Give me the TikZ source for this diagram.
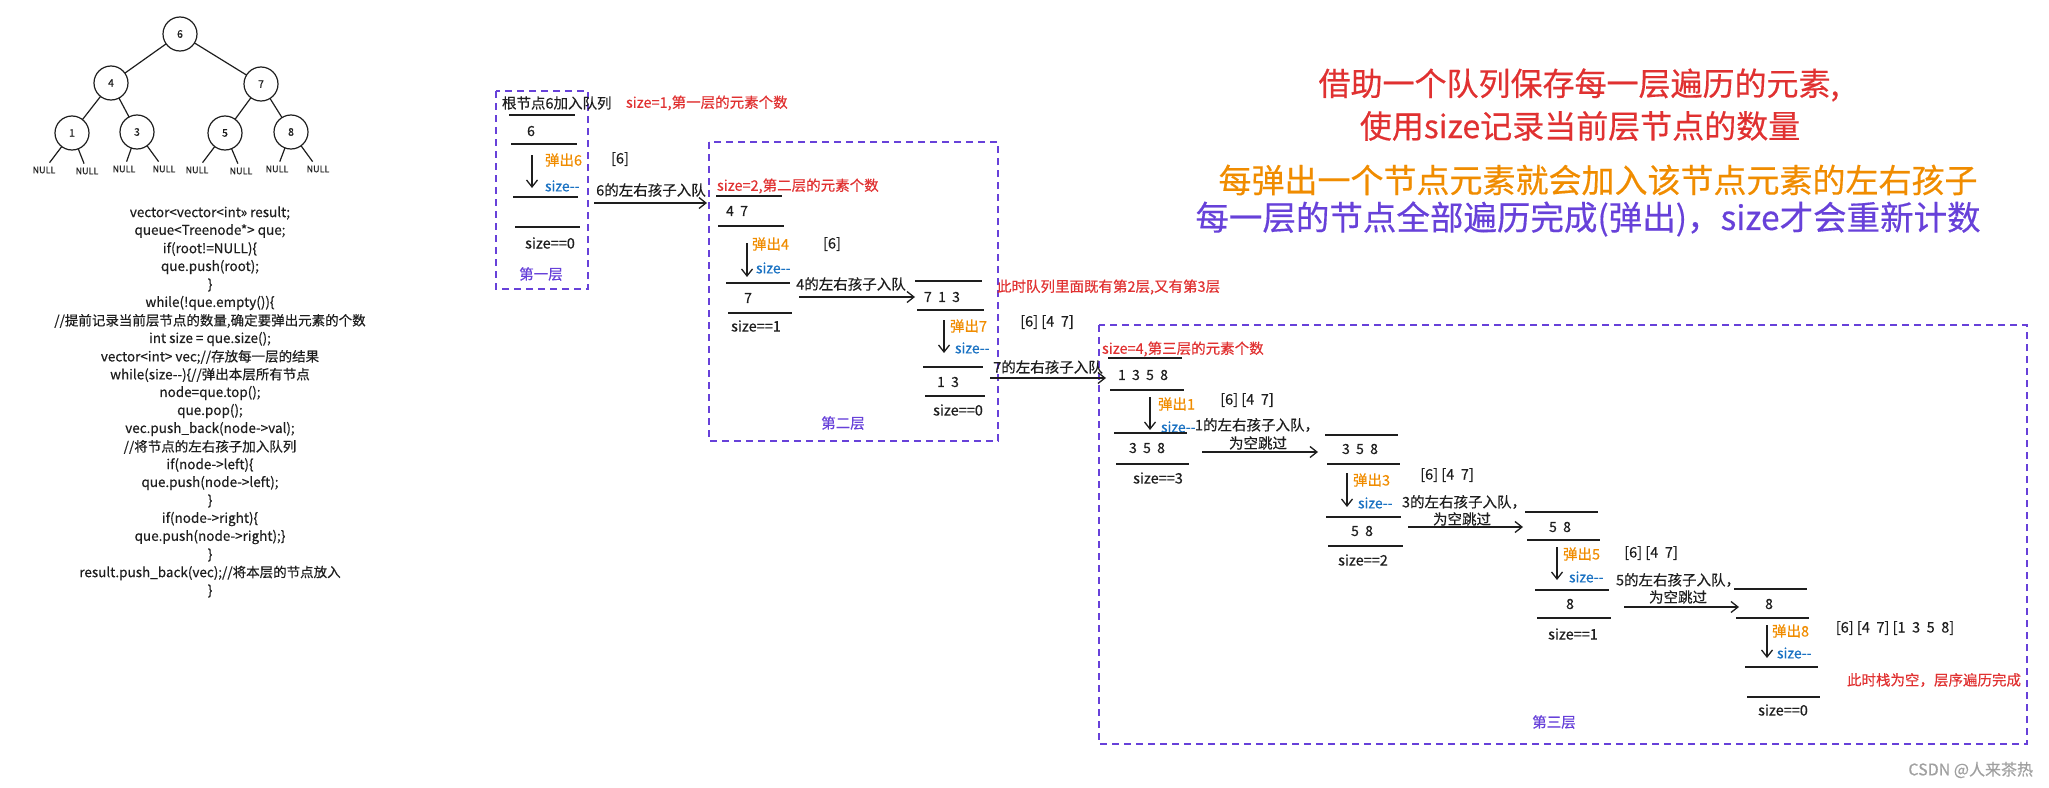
\documentclass[tikz,border=0pt]{standalone}
\usepackage{fontspec}
\setmainfont{Noto Sans CJK SC}[FakeBold=0.4]
\usetikzlibrary{arrows.meta}
\definecolor{ink}{HTML}{1E1E1E}
\definecolor{xred}{HTML}{E03131}
\definecolor{xorange}{HTML}{F08C00}
\definecolor{xblue}{HTML}{1971C2}
\definecolor{xviolet}{HTML}{6741D9}
\definecolor{wmgray}{HTML}{A0A0A0}
\newcommand\hyhy{-\kern0pt-}
\newcommand\qs{\hspace{0.45em}}
\newcommand\qlines[4]{%
  \draw[qline] (#1,#2) -- ++(#3,0);
  \draw[qline] ({#1+2},#4) -- ++(#3,0);}
\begin{document}
\begin{tikzpicture}[x=1pt,y=-1pt,
  every node/.style={inner sep=0pt,outer sep=0pt},
  lbl/.style={text=ink,font=\fontsize{14.5}{17}\selectfont},
  code/.style={text=ink,font=\fontsize{13.5}{16}\selectfont},
  qtxt/.style={text=ink,font=\fontsize{14}{16}\selectfont},
  redl/.style={text=xred,font=\fontsize{14.5}{17}\selectfont},
  popl/.style={text=xorange,font=\fontsize{14.5}{17}\selectfont,anchor=west},
  decl/.style={text=xblue,font=\fontsize{14}{16}\selectfont,anchor=west},
  layl/.style={text=xviolet,font=\fontsize{14.5}{17}\selectfont},
  big/.style={font=\fontsize{32}{36}\selectfont},
  tnode/.style={circle,draw=ink,line width=1.2pt,minimum size=34pt,text=ink,font=\fontsize{10.5}{12}\selectfont},
  nulll/.style={text=ink,font=\fontsize{9}{10}\selectfont\itshape,outer sep=4pt},
  tedge/.style={draw=ink,line width=1.2pt},
  qline/.style={draw=ink,line width=1.3pt},
  arr/.style={draw=ink,line width=1.3pt,-{Straight Barb[length=7pt,width=11pt]}},
  lbox/.style={draw=xviolet,line width=1.5pt,dash pattern=on 7pt off 5pt}
]
\useasboundingbox (0,0) rectangle (2049,787);

% ---------- tree ----------
\node[tnode] (t6) at (180,34) {6};
\node[tnode] (t4) at (111,83) {4};
\node[tnode] (t7) at (261,84) {7};
\node[tnode] (t1) at (72,133) {1};
\node[tnode] (t3) at (137,132) {3};
\node[tnode] (t5) at (225,133) {5};
\node[tnode] (t8) at (291,132) {8};
\node[nulll] (n1) at (44,170) {NULL};
\node[nulll] (n2) at (87,171) {NULL};
\node[nulll] (n3) at (124,169) {NULL};
\node[nulll] (n4) at (164,169) {NULL};
\node[nulll] (n5) at (197,170) {NULL};
\node[nulll] (n6) at (241,171) {NULL};
\node[nulll] (n7) at (277,169) {NULL};
\node[nulll] (n8) at (318,169) {NULL};
\draw[tedge] (t6) -- (t4);
\draw[tedge] (t6) -- (t7);
\draw[tedge] (t4) -- (t1);
\draw[tedge] (t4) -- (t3);
\draw[tedge] (t7) -- (t5);
\draw[tedge] (t7) -- (t8);
\draw[tedge] (t1) -- (n1);
\draw[tedge] (t1) -- (n2);
\draw[tedge] (t3) -- (n3);
\draw[tedge] (t3) -- (n4);
\draw[tedge] (t5) -- (n5);
\draw[tedge] (t5) -- (n6);
\draw[tedge] (t8) -- (n7);
\draw[tedge] (t8) -- (n8);

% ---------- code ----------
\node[code] (c1) at (210,213) {vector<vector<int>> result;};
\node[code] (c2) at (210,231) {queue<Treenode*> que;};
\node[code] (c3) at (210,249) {if(root!=NULL)\{};
\node[code] (c4) at (210,267) {que.push(root);};
\node[code] (c5) at (210,285) {\}};
\node[code] (c6) at (210,303) {while(!que.empty())\{};
\node[code] (c7) at (210,321) {//提前记录当前层节点的数量,确定要弹出元素的个数};
\node[code] (c8) at (210,339) {int size = que.size();};
\node[code] (c9) at (210,357) {vector<int> vec;//存放每一层的结果};
\node[code] (c10) at (210,375) {while(size\hyhy)\{//弹出本层所有节点};
\node[code] (c11) at (210,393) {node=que.top();};
\node[code] (c12) at (210,411) {que.pop();};
\node[code] (c13) at (210,429) {vec.push\_back(node->val);};
\node[code] (c14) at (210,447) {//将节点的左右孩子加入队列};
\node[code] (c15) at (210,465) {if(node->left)\{};
\node[code] (c16) at (210,483) {que.push(node->left);};
\node[code] (c17) at (210,501) {\}};
\node[code] (c18) at (210,519) {if(node->right)\{};
\node[code] (c19) at (210,537) {que.push(node->right);\}};
\node[code] (c20) at (210,555) {\}};
\node[code] (c21) at (210,573) {result.push\_back(vec);//将本层的节点放入};
\node[code] (c22) at (210,591) {\}};

% ---------- layer boxes ----------
\draw[lbox] (496,91) rectangle (588,289);
\draw[lbox] (709,142) rectangle (998,441);
\draw[lbox] (1099,325) rectangle (2027,744);
\node[layl] (L1) at (541,274) {第一层};
\node[layl] (L2) at (843,423) {第二层};
\node[layl] (L3) at (1554,722) {第三层};

% ---------- layer 1 ----------
\node[lbl,anchor=west] (r1) at (502,103) {根节点6加入队列};
\node[redl,anchor=west] (s1) at (626,103) {size=1,第一层的元素个数};
\qlines{509}{115}{66}{144}
\node[qtxt] (q1) at (531,131) {6};
\coordinate (d1s) at (532,155); \coordinate (d1e) at (532,188);
\draw[arr] (d1s) -- (d1e);
\node[popl] (p1) at (545,160) {弹出6};
\node[decl] (m1) at (545,186) {size\hyhy};
\node[lbl] (b1) at (620,159) {[6]};
\qlines{513}{197}{65}{227}
\node[lbl] (z1) at (550,243) {size==0};
\coordinate (h1s) at (594,203); \coordinate (h1e) at (707,203);
\draw[arr] (h1s) -- (h1e);
\node[lbl] (a1) at (651,190) {6的左右孩子入队};

% ---------- layer 2 ----------
\node[redl,anchor=west] (s2) at (717,186) {size=2,第二层的元素个数};
\qlines{716}{196}{66}{226}
\node[qtxt] (q2) at (737,211) {4\qs7};
\coordinate (d2s) at (747,243); \coordinate (d2e) at (747,277);
\draw[arr] (d2s) -- (d2e);
\node[popl] (p2) at (752,244) {弹出4};
\node[decl] (m2) at (756,268) {size\hyhy};
\node[lbl] (b2) at (832,244) {[6]};
\qlines{726}{283}{64}{313}
\node[qtxt] (q3) at (748,298) {7};
\node[lbl] (z2) at (756,326) {size==1};
\coordinate (h2s) at (799,297); \coordinate (h2e) at (915,297);
\draw[arr] (h2s) -- (h2e);
\node[lbl] (a2) at (851,284) {4的左右孩子入队};
\qlines{915}{281}{67}{310}
\node[qtxt] (q4) at (942,297) {7\qs1\qs3};
\coordinate (d3s) at (944,320); \coordinate (d3e) at (944,353);
\draw[arr] (d3s) -- (d3e);
\node[popl] (p3) at (950,326) {弹出7};
\node[decl] (m3) at (955,348) {size\hyhy};
\node[lbl] (b3) at (1047,322) {[6] [4\qs7]};
\node[redl,anchor=west] (note1) at (997,287) {此时队列里面既有第2层,又有第3层};
\qlines{923}{367}{60}{396}
\node[qtxt] (q5) at (948,382) {1\qs3};
\node[lbl] (z3) at (958,410) {size==0};
\coordinate (h3s) at (990,378); \coordinate (h3e) at (1106,378);
\draw[arr] (h3s) -- (h3e);
\node[lbl] (a3) at (1048,367) {7的左右孩子入队};

% ---------- layer 3 ----------
\node[redl,anchor=west] (s3) at (1102,349) {size=4,第三层的元素个数};
\qlines{1108}{358}{74}{390}
\node[qtxt] (q6) at (1143,375) {1\qs3\qs5\qs8};
\coordinate (d4s) at (1150,397); \coordinate (d4e) at (1150,430);
\draw[arr] (d4s) -- (d4e);
\node[popl] (p4) at (1158,404) {弹出1};
\node[decl] (m4) at (1161,427) {size\hyhy};
\node[lbl] (b4) at (1247,400) {[6] [4\qs7]};
\qlines{1114}{433}{73}{464}
\node[qtxt] (q7) at (1147,448) {3\qs5\qs8};
\node[lbl] (z4) at (1158,478) {size==3};
\coordinate (h4s) at (1202,452); \coordinate (h4e) at (1318,452);
\draw[arr] (h4s) -- (h4e);
\node[lbl] (a4) at (1257,425) {1的左右孩子入队，};
\node[lbl] (a4b) at (1258,443) {为空跳过};
\qlines{1325}{435}{73}{464}
\node[qtxt] (q8) at (1360,449) {3\qs5\qs8};
\coordinate (d5s) at (1347,473); \coordinate (d5e) at (1347,507);
\draw[arr] (d5s) -- (d5e);
\node[popl] (p5) at (1353,480) {弹出3};
\node[decl] (m5) at (1358,503) {size\hyhy};
\node[lbl] (b5) at (1447,475) {[6] [4\qs7]};
\qlines{1326}{517}{75}{546}
\node[qtxt] (q9) at (1362,531) {5\qs8};
\node[lbl] (z5) at (1363,560) {size==2};
\coordinate (h5s) at (1408,527); \coordinate (h5e) at (1523,527);
\draw[arr] (h5s) -- (h5e);
\node[lbl] (a5) at (1464,502) {3的左右孩子入队，};
\node[lbl] (a5b) at (1462,519) {为空跳过};
\qlines{1525}{512}{73}{540}
\node[qtxt] (q10) at (1560,527) {5\qs8};
\coordinate (d6s) at (1557,547); \coordinate (d6e) at (1557,580);
\draw[arr] (d6s) -- (d6e);
\node[popl] (p6) at (1563,554) {弹出5};
\node[decl] (m6) at (1569,577) {size\hyhy};
\node[lbl] (b6) at (1651,553) {[6] [4\qs7]};
\qlines{1535}{590}{74}{618}
\node[qtxt] (q11) at (1570,604) {8};
\node[lbl] (z6) at (1573,634) {size==1};
\coordinate (h6s) at (1624,607); \coordinate (h6e) at (1739,607);
\draw[arr] (h6s) -- (h6e);
\node[lbl] (a6) at (1678,580) {5的左右孩子入队，};
\node[lbl] (a6b) at (1678,597) {为空跳过};
\qlines{1734}{589}{73}{618}
\node[qtxt] (q12) at (1769,604) {8};
\coordinate (d7s) at (1767,625); \coordinate (d7e) at (1767,658);
\draw[arr] (d7s) -- (d7e);
\node[popl] (p7) at (1772,631) {弹出8};
\node[decl] (m7) at (1777,653) {size\hyhy};
\node[lbl] (b7) at (1895,628) {[6] [4\qs7] [1\qs3\qs5\qs8]};
\qlines{1745}{667}{73}{697}
\node[lbl] (z7) at (1783,710) {size==0};
\node[redl,anchor=west] (note2) at (1847,680) {此时栈为空，层序遍历完成};

% ---------- headline text ----------
\node[big,text=xred] (h1) at (1579,85) {借助一个队列保存每一层遍历的元素,};
\node[big,text=xred] (h2) at (1580,126) {使用size记录当前层节点的数量};
\node[big,text=xorange,font=\fontsize{33}{36}\selectfont] (h3) at (1598,180) {每弹出一个节点元素就会加入该节点元素的左右孩子};
\node[big,text=xviolet,font=\fontsize{33.5}{36}\selectfont] (h4) at (1588,219) {每一层的节点全部遍历完成(弹出)，size才会重新计数};

% ---------- watermark ----------
\node[text=wmgray,font=\fontsize{16}{18}\selectfont,anchor=east] (wm) at (2033,770) {CSDN @人来茶热};
\end{tikzpicture}
\end{document}
